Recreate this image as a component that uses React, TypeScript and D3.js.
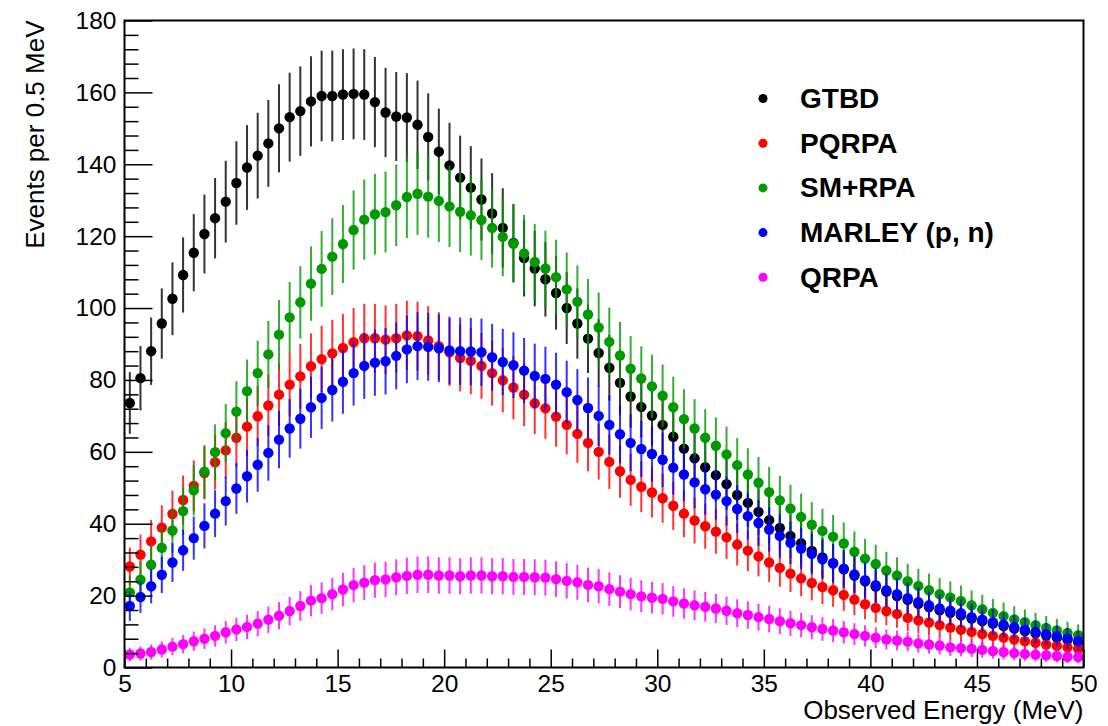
import React, { useEffect, useRef } from 'react';
import * as d3 from 'd3';

// bins of 0.5 MeV from 5 to 50 MeV, values are read at the bin centres
const binStart = 5;
const binWidth = 0.5;

const seriesNames = ["GTBD", "PQRPA", "SM+RPA", "MARLEY (p, n)", "QRPA"];
const seriesColors = ["#000000", "#ff0000", "#009900", "#0000ff", "#ff00ff"];

const xTicks = [5, 10, 15, 20, 25, 30, 35, 40, 45, 50];
const yTicks = [0, 20, 40, 60, 80, 100, 120, 140, 160, 180];

const gtbd = [
    73.6, 80.5, 88.0, 95.7, 102.6, 109.2, 115.4, 120.6, 125.0, 129.6,
    134.8, 139.1, 142.4, 145.8, 150.0, 153.1, 154.8, 157.5, 159.0, 159.0,
    159.4, 159.6, 159.4, 157.3, 154.4, 153.3, 153.0, 151.0, 147.6, 143.5,
    139.7, 136.3, 133.5, 130.2, 126.3, 122.3, 118.1, 113.9, 111.0, 108.0,
    104.2, 100.0, 95.7, 91.5, 87.5, 83.4, 79.2, 75.4, 72.5, 70.1,
    67.5, 64.2, 60.9, 58.2, 55.7, 53.5, 51.0, 48.0, 45.8, 43.3,
    41.0, 38.8, 36.6, 34.6, 32.4, 30.6, 29.0, 27.3, 25.6, 24.0,
    22.5, 21.1, 19.9, 18.8, 17.7, 16.8, 15.9, 15.2, 14.5, 13.6,
    12.9, 12.2, 11.5, 10.8, 10.1, 9.5, 8.9, 8.3, 7.7, 7.0
];

const pqrpa = [
    28.1, 31.4, 35.1, 38.9, 42.7, 46.6, 50.5, 54.1, 57.1, 60.4,
    63.9, 67.0, 69.9, 72.9, 75.9, 78.7, 81.0, 83.8, 85.8, 87.4,
    88.9, 90.5, 91.6, 91.6, 91.2, 91.6, 92.4, 92.2, 91.0, 89.4,
    87.7, 86.1, 85.3, 83.9, 81.9, 79.9, 77.9, 75.9, 73.5, 72.1,
    69.8, 67.5, 65.0, 62.5, 60.0, 57.2, 54.6, 52.2, 50.3, 48.7,
    47.1, 45.0, 42.8, 40.9, 39.3, 37.8, 36.2, 34.2, 32.5, 30.9,
    29.2, 27.7, 26.1, 24.8, 23.5, 22.4, 21.5, 20.2, 18.9, 17.6,
    16.6, 15.7, 14.9, 13.8, 13.1, 12.5, 11.8, 11.1, 10.5, 9.9,
    9.3, 8.8, 8.3, 7.8, 7.3, 6.9, 6.4, 6.0, 5.6, 5.2
];

const smrpa = [
    20.9, 24.4, 28.6, 33.3, 38.1, 43.5, 49.3, 54.5, 59.9, 65.2,
    71.2, 76.9, 81.9, 87.1, 92.6, 97.4, 101.6, 106.8, 110.9, 114.3,
    117.8, 121.7, 124.6, 126.1, 126.7, 128.6, 130.9, 131.8, 131.0, 129.8,
    128.3, 126.8, 125.8, 124.5, 122.3, 119.8, 117.9, 115.2, 112.8, 111.0,
    108.6, 105.2, 101.8, 98.2, 94.6, 90.6, 86.8, 83.1, 80.4, 78.2,
    75.6, 72.4, 69.1, 66.5, 63.9, 61.7, 59.3, 56.3, 53.7, 51.4,
    48.8, 46.5, 44.2, 41.9, 39.7, 38.0, 36.4, 34.5, 32.2, 30.3,
    28.8, 27.0, 25.6, 24.0, 22.7, 21.5, 20.4, 19.5, 18.5, 17.3,
    16.2, 15.2, 14.3, 13.4, 12.6, 11.8, 11.0, 10.3, 9.6, 9.0
];

const marley = [
    17.1, 19.6, 22.6, 25.8, 29.2, 32.6, 36.0, 39.4, 42.8, 46.3,
    49.8, 53.2, 56.4, 59.7, 63.4, 66.5, 69.2, 72.4, 75.0, 77.2,
    79.5, 81.9, 83.9, 84.8, 85.2, 86.7, 88.5, 89.4, 89.2, 88.8,
    88.2, 88.0, 87.9, 87.7, 86.3, 85.0, 84.1, 82.6, 81.1, 80.3,
    78.7, 76.6, 74.4, 72.2, 70.0, 67.5, 64.9, 62.5, 60.8, 59.4,
    57.8, 55.6, 53.7, 51.5, 49.6, 48.1, 46.3, 44.1, 42.1, 40.2,
    38.4, 36.6, 34.7, 33.1, 31.6, 30.1, 29.0, 27.5, 25.9, 24.3,
    22.9, 21.5, 20.4, 19.3, 18.2, 17.3, 16.4, 15.8, 15.1, 14.0,
    13.3, 12.6, 11.9, 11.2, 10.5, 9.9, 9.3, 8.7, 8.1, 7.4
];

const qrpa = [
    3.6, 3.9, 4.3, 5.0, 5.8, 6.5, 7.3, 8.0, 8.8, 9.8,
    10.6, 11.3, 12.2, 13.3, 14.4, 15.7, 17.1, 18.6, 19.3, 20.4,
    21.7, 22.9, 23.6, 24.3, 24.5, 25.1, 25.5, 25.8, 25.8, 25.6,
    25.6, 25.4, 25.6, 25.6, 25.4, 25.4, 25.2, 25.2, 25.1, 25.0,
    24.6, 24.1, 23.7, 23.0, 22.6, 21.8, 21.1, 20.4, 19.8, 19.4,
    19.1, 18.4, 17.8, 17.3, 16.9, 16.4, 15.8, 15.1, 14.6, 14.0,
    13.5, 12.9, 12.3, 11.8, 11.2, 10.7, 10.3, 9.8, 9.3, 8.8,
    8.3, 7.8, 7.5, 7.2, 6.7, 6.4, 6.1, 5.6, 5.4, 5.2,
    4.9, 4.6, 4.3, 4.0, 3.8, 3.6, 3.4, 3.2, 3.0, 2.9
];

const seriesValues = [gtbd, pqrpa, smrpa, marley, qrpa];

const FONT = "'Liberation Sans', Arial, Helvetica, sans-serif";

function App() {
    const svgRef = useRef<SVGSVGElement>(null);

    useEffect(() => {
        const width = 1108;
        const height = 726;
        const margin = { top: 20.5, right: 24.5, bottom: 58.5, left: 124.5 };
        const boundedWidth = width - margin.left - margin.right;
        const boundedHeight = height - margin.top - margin.bottom;

        const svg = d3.select(svgRef.current);
        svg.selectAll("*").remove();

        const bounds = svg.append("g")
            .attr("transform", `translate(${margin.left},${margin.top})`);

        const xScale = d3.scaleLinear().domain([5, 50]).range([0, boundedWidth]);
        const yScale = d3.scaleLinear().domain([0, 180]).range([boundedHeight, 0]);

        // data: one group per model, points at bin centres, Poisson errors
        seriesValues.forEach((values, s) => {
            const pts = values.map((v, i) => ({ x: binStart + binWidth * (i + 0.5), y: v, err: Math.sqrt(v) }));
            const g = bounds.append("g");
            g.selectAll("line")
                .data(pts)
                .enter()
                .append("line")
                .attr("x1", d => xScale(d.x))
                .attr("x2", d => xScale(d.x))
                .attr("y1", d => yScale(d.y - d.err))
                .attr("y2", d => yScale(Math.min(d.y + d.err, 180)))
                .attr("stroke", seriesColors[s])
                .attr("stroke-opacity", 0.8)
                .attr("stroke-width", 2);
            g.selectAll("circle")
                .data(pts)
                .enter()
                .append("circle")
                .attr("cx", d => xScale(d.x))
                .attr("cy", d => yScale(d.y))
                .attr("r", 5.2)
                .attr("fill", seriesColors[s]);
        });

        // y axis, ticks drawn inside the frame like ROOT
        const yMajor = bounds.append("g")
            .call(d3.axisLeft(yScale).tickValues(yTicks).tickSize(-28).tickPadding(8).tickFormat(d3.format("d")));
        const yMinor = bounds.append("g")
            .call(d3.axisLeft(yScale).tickValues(d3.range(0, 181, 4).filter(v => v % 20 !== 0)).tickSize(-14).tickFormat(() => ""));

        const xMajor = bounds.append("g")
            .attr("transform", `translate(0,${boundedHeight})`)
            .call(d3.axisBottom(xScale).tickValues(xTicks).tickSize(-18).tickPadding(7).tickFormat(d3.format("d")));
        const xMinor = bounds.append("g")
            .attr("transform", `translate(0,${boundedHeight})`)
            .call(d3.axisBottom(xScale).tickValues(d3.range(5, 51, 1).filter(v => v % 5 !== 0)).tickSize(-9).tickFormat(() => ""));

        [yMajor, yMinor, xMajor, xMinor].forEach(a => {
            a.select(".domain").remove();
            a.selectAll("line").attr("stroke", "#000").attr("stroke-width", 1.5);
            a.selectAll("text")
                .attr("font-family", FONT)
                .attr("font-size", 24.5)
                .attr("fill", "#000");
        });

        // frame
        bounds.append("rect")
            .attr("x", 0)
            .attr("y", 0)
            .attr("width", boundedWidth)
            .attr("height", boundedHeight)
            .attr("fill", "none")
            .attr("stroke", "#000")
            .attr("stroke-width", 2);

        // axis titles
        svg.append("text")
            .attr("x", margin.left + boundedWidth)
            .attr("y", 719)
            .attr("text-anchor", "end")
            .attr("font-family", FONT)
            .attr("font-size", 26)
            .text("Observed Energy (MeV)");

        svg.append("text")
            .attr("transform", `translate(44,${margin.top}) rotate(-90)`)
            .attr("text-anchor", "end")
            .attr("font-family", FONT)
            .attr("font-size", 26)
            .text("Events per 0.5 MeV");

        // legend
        const legend = svg.append("g")
            .selectAll("g")
            .data(seriesNames)
            .enter()
            .append("g")
            .attr("transform", (d, i) => `translate(763,${98.5 + i * 44.7})`);

        legend.append("circle")
            .attr("r", 4.5)
            .attr("fill", (d, i) => seriesColors[i]);

        legend.append("text")
            .attr("x", 37)
            .attr("y", 9.5)
            .attr("font-family", FONT)
            .attr("font-size", 28)
            .attr("font-weight", "bold")
            .text(d => d);
    }, []);

    return (
        <svg ref={svgRef} width={1108} height={726}
            style={{ position: "absolute", left: 0, top: 0, background: "#fff" }} />
    );
}

export default App;
